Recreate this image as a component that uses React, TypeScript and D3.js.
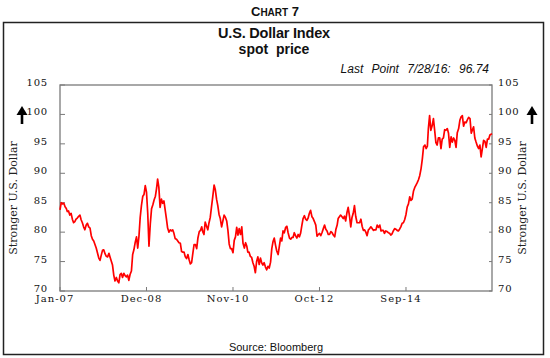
import React from "react";
import * as d3 from "d3";

// Three readings per month (days 1, 11, 21), Jan 2007 – Jul 2016; final point is 7/28/16
const values: number[] = [
  // 2007
  83.8, 85.0, 84.8, 84.9, 84.3, 84.0, 83.5, 83.6, 82.9, 83.2, 82.2, 81.6,
  81.8, 82.2, 82.4, 82.7, 82.9, 82.1, 81.6, 80.9, 80.4, 81.2, 81.5, 80.9,
  80.7, 79.4, 78.8, 78.5, 77.9, 77.3, 76.4, 75.6, 75.2, 76.1, 76.9, 77.0,
  // 2008
  76.3, 75.9, 75.8, 76.4, 75.7, 75.0, 74.4, 72.7, 71.7, 72.3, 71.7, 71.4,
  72.8, 73.0, 72.3, 73.0, 72.6, 72.4, 72.7, 71.8, 72.8, 73.4, 76.2, 77.0,
  78.3, 79.2, 77.3, 79.3, 82.5, 84.5, 86.1, 86.4, 87.9, 86.8, 83.2, 77.6,
  // 2009
  81.5, 84.0, 84.6, 85.5, 86.1, 87.5, 89.0, 87.6, 84.2, 85.6, 84.9, 85.3,
  83.8, 82.3, 80.7, 80.0, 80.4, 80.2, 80.4, 79.8, 78.9, 78.8, 78.5, 78.2,
  78.1, 76.7, 76.6, 76.6, 75.8, 75.5, 76.2, 75.3, 74.6, 74.8, 76.4, 77.9,
  // 2010
  77.9, 77.2, 79.0, 80.1, 80.3, 80.9, 80.1, 79.6, 81.7, 81.0, 80.4, 81.6,
  82.5, 84.3, 86.0, 88.0, 87.2, 85.6, 84.5, 83.0, 82.3, 80.9, 81.9, 82.9,
  82.5, 81.9, 80.3, 78.0, 77.2, 77.2, 76.5, 78.6, 79.2, 80.8, 79.5, 80.6,
  // 2011
  79.6, 80.9, 78.1, 77.3, 78.2, 77.6, 76.6, 76.6, 75.9, 75.7, 74.8, 74.2,
  73.1, 75.0, 75.8, 74.5, 75.6, 74.8, 74.4, 74.8, 74.1, 73.6, 74.2, 73.9,
  74.9, 77.2, 78.4, 79.0, 77.8, 76.8, 76.2, 77.6, 79.0, 78.5, 80.2, 79.9,
  // 2012
  80.8, 81.0, 79.9, 79.0, 78.8, 79.1, 79.1, 79.9, 79.4, 79.0, 79.6, 79.2,
  79.8, 81.1, 82.3, 82.8, 82.2, 82.0, 82.4, 83.2, 83.7, 82.6, 82.3, 81.8,
  81.2, 79.3, 79.6, 79.8, 79.4, 79.9, 80.6, 81.2, 80.5, 80.2, 79.6, 79.6,
  // 2013
  80.1, 79.9, 79.5, 79.2, 80.5, 81.2, 82.3, 82.6, 82.9, 82.6, 82.3, 82.7,
  81.9, 83.3, 84.2, 82.7, 80.9, 82.5, 83.2, 84.5, 82.7, 81.6, 81.6, 81.6,
  82.2, 81.0, 80.3, 80.4, 80.0, 79.4, 80.4, 80.6, 80.9, 80.6, 80.3, 80.4,
  // 2014
  80.4, 81.2, 80.8, 81.2, 80.2, 80.3, 80.3, 79.8, 80.2, 80.1, 79.9, 79.8,
  79.5, 79.7, 80.2, 80.6, 80.5, 80.3, 80.2, 80.5, 80.9, 81.5, 81.6, 82.1,
  83.0, 84.3, 84.8, 86.0, 85.4, 85.6, 87.0, 87.6, 88.0, 88.4, 88.9, 89.6,
  // 2015
  90.8, 92.4, 94.5, 94.8, 94.2, 94.6, 97.6, 99.8, 97.3, 98.1, 99.3, 97.3,
  95.2, 94.8, 96.0, 96.0, 94.2, 95.8, 96.0, 97.4, 97.3, 97.6, 96.8, 94.4,
  96.2, 95.3, 96.0, 95.6, 94.4, 96.9, 97.6, 99.0, 99.6, 99.8, 98.0, 98.7,
  // 2016
  98.6, 99.1, 99.5, 99.3, 96.8, 97.4, 97.9, 96.0, 95.3, 94.6, 94.2, 94.8,
  92.8, 94.2, 95.6, 95.4, 94.4, 95.8, 95.8, 96.5, 96.74,
];

const readingDays = [1, 11, 21];
const lastDate = new Date(2016, 6, 28);
const dates: Date[] = values.map((_, i) =>
  i === values.length - 1
    ? lastDate
    : new Date(2007, Math.floor(i / 3), readingDays[i % 3])
);

const yTicks = [70, 75, 80, 85, 90, 95, 100, 105];
const xTickDates = [
  new Date(2007, 0, 1),
  new Date(2008, 11, 1),
  new Date(2010, 10, 1),
  new Date(2012, 9, 1),
  new Date(2014, 8, 1),
];
const xTickLabels = ["Jan-07", "Dec-08", "Nov-10", "Oct-12", "Sep-14"];

const W = 550;
const H = 358;
const plot = { left: 60, right: 492, top: 85, bottom: 291 };

export default function App() {
  const x = d3
    .scaleTime()
    .domain([new Date(2007, 0, 1), lastDate])
    .range([plot.left, plot.right]);
  const y = d3.scaleLinear().domain([70, 105]).range([plot.bottom, plot.top]);
  const line = d3
    .line<number>()
    .x((_, i) => x(dates[i]))
    .y((d) => y(d));

  const serif = "'DejaVu Serif', serif";
  const sans = "'Liberation Sans', Arial, sans-serif";
  const axisColor = "#7a7a7a";

  const arrow = (cx: number) => (
    <g>
      <line x1={cx} x2={cx} y1={124} y2={112} stroke="#000" strokeWidth={2.6} />
      <path d={`M${cx - 5.5},${115} L${cx},${106} L${cx + 5.5},${115} Z`} fill="#000" />
    </g>
  );

  return (
    <svg
      width={W}
      height={H}
      style={{ position: "absolute", left: 0, top: 0, background: "#fff" }}
    >
      <rect x={0} y={0} width={W} height={H} fill="#fff" />
      {/* Chart header */}
      <text x={275} y={15.7} textAnchor="middle" fontFamily={sans} fontWeight="bold" fill="#111">
        <tspan fontSize={13}>C</tspan>
        <tspan fontSize={10}>HART</tspan>
        <tspan fontSize={13}> 7</tspan>
      </text>
      <rect x={3.5} y={22.5} width={540} height={332} fill="none" stroke="#222" strokeWidth={1.5} />
      <text x={274} y={38.3} textAnchor="middle" fontFamily={sans} fontWeight="bold" fontSize={14.5} fill="#111" letterSpacing={-0.2}>
        U.S. Dollar Index
      </text>
      <text x={274} y={53.5} textAnchor="middle" fontFamily={sans} fontWeight="bold" fontSize={14} fill="#111" style={{ whiteSpace: "pre" }}>
        {"spot  price"}
      </text>
      <text x={489} y={72.5} textAnchor="end" fontFamily={sans} fontStyle="italic" fontSize={12} fill="#111" wordSpacing={5}>
        Last Point 7/28/16: 96.74
      </text>

      {/* Plot frame */}
      <rect
        x={plot.left}
        y={plot.top}
        width={plot.right - plot.left}
        height={plot.bottom - plot.top}
        fill="none"
        stroke={axisColor}
        strokeWidth={1.3}
      />
      {yTicks.map((t) => (
        <g key={t}>
          <line x1={plot.left} x2={plot.left + 5} y1={y(t)} y2={y(t)} stroke={axisColor} />
          <line x1={plot.right - 3} x2={plot.right} y1={y(t)} y2={y(t)} stroke={axisColor} />
          <text x={48} y={y(t) + 1} textAnchor="end" fontFamily={serif} fontSize={10} letterSpacing={0.8} fill="#111">
            {t}
          </text>
          <text x={498} y={y(t) + 1} textAnchor="start" fontFamily={serif} fontSize={10} letterSpacing={0.8} fill="#111">
            {t}
          </text>
        </g>
      ))}
      {xTickDates.map((d, i) => (
        <g key={i}>
          <line x1={x(d)} x2={x(d)} y1={plot.bottom} y2={plot.bottom - 4} stroke={axisColor} />
          <text x={x(d) - 5} y={302} textAnchor="middle" fontFamily={serif} fontSize={10} letterSpacing={1} fill="#111">
            {xTickLabels[i]}
          </text>
        </g>
      ))}

      {/* Side labels */}
      <text transform="translate(17,198) rotate(-90)" textAnchor="middle" fontFamily={serif} fontSize={11} fill="#222">
        Stronger U.S. Dollar
      </text>
      <text transform="translate(526,198) rotate(-90)" textAnchor="middle" fontFamily={serif} fontSize={11} fill="#222">
        Stronger U.S. Dollar
      </text>
      {arrow(22)}
      {arrow(532)}

      {/* Series */}
      <path d={line(values) ?? ""} fill="none" stroke="#ff0000" strokeWidth={1.7} strokeLinejoin="round" />

      <text x={276} y={351} textAnchor="middle" fontFamily={sans} fontSize={11} fill="#111">
        Source: Bloomberg
      </text>
    </svg>
  );
}
